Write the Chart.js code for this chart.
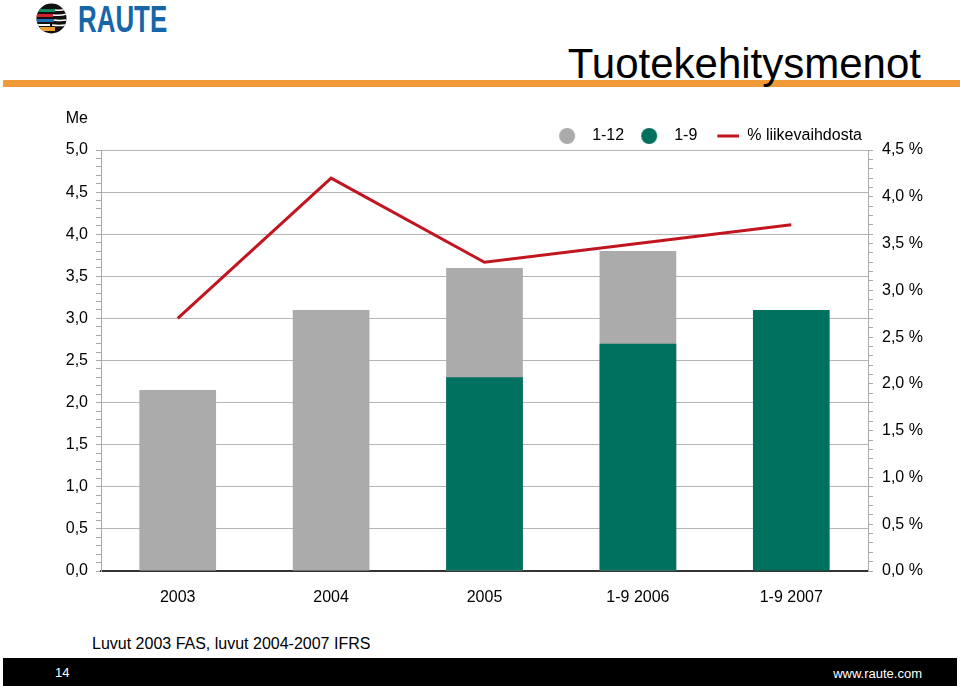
<!DOCTYPE html>
<html>
<head>
<meta charset="utf-8">
<title>Tuotekehitysmenot</title>
<script src="https://cdn.jsdelivr.net/npm/chart.js@4.4.1/dist/chart.umd.min.js"></script>
<style>
  html, body { margin: 0; padding: 0; background: #fff; }
  body { width: 960px; height: 686px; position: relative; overflow: hidden; font-family: "Liberation Sans", Arial, sans-serif; }
  #logo { position: absolute; left: 36px; top: 3px; }
  #brand { position: absolute; left: 78px; top: -1px; font-size: 37px; font-weight: bold; color: #1766a9; transform: scaleX(0.7); transform-origin: left top; }
  #rule { position: absolute; left: 3px; top: 80px; width: 957px; height: 7px; background: #f09a3a; }
  #title { position: absolute; right: 39px; top: 43px; font-size: 42px; line-height: 42px; color: #000; white-space: nowrap; }
  #chartBox { position: absolute; left: 0; top: 100px; width: 960px; height: 530px; }
  #note { position: absolute; left: 92px; top: 636px; font-size: 16px; line-height: 16px; color: #000; }
  #footer { position: absolute; left: 3px; top: 658px; width: 954px; height: 28px; background: #000; color: #fff; font-size: 13px; }
  #pageNo { position: absolute; left: 52px; top: 7px; }
  #site { position: absolute; right: 35px; top: 8px; }
</style>
</head>
<body>
<svg id="logo" width="31" height="31" viewBox="0 0 31 31">
  <defs><clipPath id="c"><circle cx="15.5" cy="15.5" r="15"/></clipPath></defs>
  <circle cx="15.5" cy="15.5" r="15" fill="#111"/>
  <g clip-path="url(#c)">
    <rect x="0" y="6" width="19" height="3" fill="#0f8a5f"/>
    <rect x="0" y="11" width="17" height="3" fill="#d3232a"/>
    <rect x="0" y="16" width="18" height="3" fill="#1f6db3"/>
    <rect x="0" y="21" width="14" height="2" fill="#fff"/>
    <rect x="0" y="24" width="19" height="4" fill="#f0a032"/>
    <path d="M19 7 Q25 8 30 6 M17 12 Q24 13 31 11 M18 17 Q24 18 31 17 M16 22 Q23 23 30 22" stroke="#fff" stroke-width="1.5" fill="none"/>
  </g>
</svg>
<div id="brand">RAUTE</div>
<div id="rule"></div>
<div id="title">Tuotekehitysmenot</div>
<div id="chartBox"><canvas id="myChart" width="960" height="530"></canvas></div>
<div id="note">Luvut 2003 FAS, luvut 2004-2007 IFRS</div>
<div id="footer"><span id="pageNo">14</span><span id="site">www.raute.com</span></div>

<script>
// Chart data (Me = million euros)
var periods = ['2003', '2004', '2005', '1-9 2006', '1-9 2007'];
var fullYear = [2.15, 3.1, 3.6, 3.8, null];      // 1-12
var nineMonths = [null, null, 2.3, 2.7, 3.1];    // 1-9
var shareOfSales = [2.7, 4.2, 3.3, 3.5, 3.7];    // % liikevaihdosta
var seriesNames = ['1-12', '1-9', '% liikevaihdosta'];
var unitLabel = 'Me';

var grey = '#ababab';
var green = '#00705f';
var red = '#c1161f';

Chart.defaults.font.family = '"Liberation Sans", Arial, sans-serif';
Chart.defaults.font.size = 16;
Chart.defaults.color = '#000';

// legend symbols, drawn to small canvases so spacing matches the slide
function makeIcon(kind, color) {
  var c = document.createElement('canvas');
  c.width = 36;
  c.height = 20;
  var g = c.getContext('2d');
  if (kind === 'dot') {
    g.fillStyle = color;
    g.beginPath();
    g.arc(19, 10, 8, 0, Math.PI * 2);
    g.fill();
  } else {
    g.strokeStyle = color;
    g.lineWidth = 3;
    g.beginPath();
    g.moveTo(14, 10);
    g.lineTo(36, 10);
    g.stroke();
  }
  return c;
}
var legendIcons = [makeIcon('dot', grey), makeIcon('dot', green), makeIcon('line', red)];

function isMajor(v) {
  return Math.round(v * 10) % 5 === 0;
}
function fmt(v) {
  return v.toFixed(1).replace('.', ',');
}

var legendHeight = {
  id: 'legendHeight',
  beforeInit: function (chart) {
    var fit = chart.legend.fit;
    chart.legend.fit = function () {
      fit.call(this);
      this.height = 28;
    };
  }
};

var axisUnitLabel = {
  id: 'axisUnitLabel',
  afterDraw: function (chart) {
    var ctx = chart.ctx;
    var s = chart.scales.y;
    ctx.save();
    ctx.font = '16px "Liberation Sans", Arial, sans-serif';
    ctx.fillStyle = '#000';
    ctx.textAlign = 'right';
    ctx.textBaseline = 'middle';
    ctx.fillText(unitLabel, s.right - 13, chart.chartArea.top - 31);
    ctx.restore();
  }
};

var myChart = new Chart(document.getElementById('myChart'), {
  type: 'bar',
  data: {
    labels: periods,
    datasets: [
      {
        label: seriesNames[0],
        data: fullYear,
        backgroundColor: grey,
        grouped: false,
        order: 2,
        yAxisID: 'y'
      },
      {
        label: seriesNames[1],
        data: nineMonths,
        backgroundColor: green,
        grouped: false,
        order: 1,
        yAxisID: 'y'
      },
      {
        type: 'line',
        label: seriesNames[2],
        data: shareOfSales,
        borderColor: red,
        backgroundColor: red,
        borderWidth: 3,
        pointRadius: 0,
        tension: 0,
        order: 0,
        yAxisID: 'y1'
      }
    ]
  },
  options: {
    responsive: false,
    animation: false,
    events: [],
    barPercentage: 0.5,
    categoryPercentage: 1.0,
    layout: { padding: { top: 22, left: 0, right: 0, bottom: 0 } },
    plugins: {
      tooltip: { enabled: false },
      legend: {
        position: 'top',
        align: 'end',
        fullSize: false,
        labels: {
          usePointStyle: true,
          pointStyleWidth: 36,
          padding: 6,
          color: '#000',
          font: { size: 16 },
          sort: function (a, b) { return a.datasetIndex - b.datasetIndex; },
          generateLabels: function (chart) {
            var items = Chart.defaults.plugins.legend.labels.generateLabels(chart);
            items.forEach(function (it) { it.pointStyle = legendIcons[it.datasetIndex]; });
            return items;
          }
        }
      }
    },
    scales: {
      x: {
        afterFit: function (s) { s.height = 59; },
        grid: { display: false, drawTicks: false },
        border: { display: true, color: '#333', width: 2 },
        ticks: { padding: 17, color: '#000' }
      },
      y: {
        position: 'left',
        min: 0,
        max: 5,
        afterFit: function (s) { s.width = 101; },
        border: { display: true, color: '#aaa', width: 1 },
        grid: {
          color: function (c) { return isMajor(c.tick.value) ? '#b4b4b4' : 'rgba(0,0,0,0)'; },
          tickColor: '#a8a8a8',
          tickLength: 5
        },
        ticks: {
          stepSize: 0.1,
          autoSkip: false,
          padding: 8,
          color: '#000',
          callback: function (v) { return isMajor(v) ? fmt(v) : ''; }
        }
      },
      y1: {
        position: 'right',
        min: 0,
        max: 4.5,
        afterFit: function (s) { s.width = 92; },
        border: { display: true, color: '#aaa', width: 1 },
        grid: {
          drawOnChartArea: false,
          tickColor: '#a8a8a8',
          tickLength: 5
        },
        ticks: {
          stepSize: 0.1,
          autoSkip: false,
          padding: 9,
          color: '#000',
          callback: function (v) { return isMajor(v) ? fmt(v) + ' %' : ''; }
        }
      }
    }
  },
  plugins: [legendHeight, axisUnitLabel]
});
</script>
</body>
</html>
